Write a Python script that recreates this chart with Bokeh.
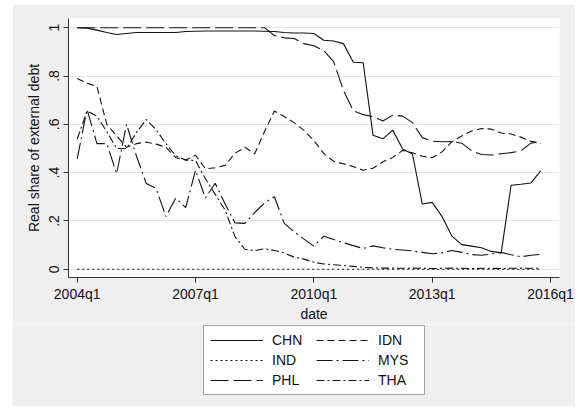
from bokeh.plotting import figure
from bokeh.layouts import column
from bokeh.models import Range1d, FixedTicker, Legend, LegendItem
from bokeh.embed import file_html
from bokeh.resources import INLINE

# Quarterly observations, 2004q1 .. 2015q4
quarters = [f"{y}q{q}" for y in range(2004, 2016) for q in range(1, 5)]
x = list(range(len(quarters)))

chn = [1.000, 0.998, 0.990, 0.980, 0.972, 0.976, 0.980, 0.980, 0.980, 0.980,
       0.980, 0.984, 0.985, 0.986, 0.986, 0.986, 0.986, 0.986, 0.986, 0.985,
       0.984, 0.980, 0.978, 0.978, 0.976, 0.948, 0.945, 0.934, 0.857, 0.855,
       0.555, 0.540, 0.576, 0.498, 0.477, 0.270, 0.277, 0.218, 0.137, 0.102,
       0.096, 0.089, 0.074, 0.068, 0.348, 0.352, 0.357, 0.407]
idn = [0.790, 0.770, 0.757, 0.600, 0.552, 0.505, 0.520, 0.527, 0.518, 0.505,
       0.462, 0.452, 0.472, 0.416, 0.420, 0.430, 0.480, 0.505, 0.478, 0.570,
       0.655, 0.632, 0.607, 0.575, 0.533, 0.480, 0.447, 0.437, 0.425, 0.410,
       0.418, 0.445, 0.463, 0.492, 0.482, 0.468, 0.462, 0.486, 0.528, 0.552,
       0.572, 0.583, 0.580, 0.564, 0.560, 0.547, 0.530, 0.522]
ind = [0.0, 0.0, 0.0, 0.0, 0.0, 0.0, 0.0, 0.0, 0.0, 0.0,
       0.0, 0.0, 0.0, 0.0, 0.0, 0.0, 0.0, 0.0, 0.0, 0.0,
       0.0, 0.0, 0.0, 0.0, 0.0, 0.0, 0.0, 0.0, 0.0, 0.0,
       0.0, 0.0, 0.0, 0.0, 0.0, 0.0, 0.0, 0.0, 0.0, 0.0,
       0.0, 0.0, 0.0, 0.0, 0.0, 0.0, 0.0, 0.0]
mys = [0.457, 0.662, 0.520, 0.520, 0.396, 0.600, 0.470, 0.355, 0.335, 0.218,
       0.295, 0.255, 0.410, 0.295, 0.356, 0.270, 0.192, 0.190, 0.235, 0.275,
       0.300, 0.190, 0.155, 0.125, 0.096, 0.137, 0.123, 0.110, 0.098, 0.086,
       0.097, 0.089, 0.083, 0.080, 0.076, 0.070, 0.064, 0.068, 0.078, 0.070,
       0.061, 0.058, 0.063, 0.070, 0.060, 0.052, 0.058, 0.062]
phl = [1.000, 1.000, 1.000, 1.000, 1.000, 1.000, 1.000, 1.000, 1.000, 1.000,
       1.000, 1.000, 1.000, 1.000, 1.000, 1.000, 1.000, 1.000, 1.000, 1.000,
       0.967, 0.958, 0.955, 0.934, 0.925, 0.905, 0.860, 0.740, 0.656, 0.640,
       0.632, 0.614, 0.638, 0.634, 0.607, 0.545, 0.530, 0.528, 0.529, 0.522,
       0.490, 0.475, 0.473, 0.478, 0.483, 0.490, 0.522, 0.528]
tha = [0.539, 0.655, 0.634, 0.570, 0.500, 0.500, 0.566, 0.620, 0.578, 0.520,
       0.470, 0.452, 0.450, 0.375, 0.310, 0.245, 0.135, 0.083, 0.077, 0.085,
       0.078, 0.068, 0.050, 0.042, 0.029, 0.022, 0.019, 0.016, 0.012, 0.008,
       0.006, 0.005, 0.005, 0.004, 0.005, 0.004, 0.003, 0.004, 0.005, 0.004,
       0.003, 0.004, 0.004, 0.003, 0.004, 0.005, 0.004, 0.004]

x_ticks = [0, 12, 24, 36, 48]
x_tick_labels = ["2004q1", "2007q1", "2010q1", "2013q1", "2016q1"]
y_ticks = [0, 0.2, 0.4, 0.6, 0.8, 1]
y_tick_labels = ["0", ".2", ".4", ".6", ".8", "1"]

FONT = "Liberation Sans"
INK = "#111111"
PANEL = "#efefef"

series = {
    "CHN": (chn, "solid"),
    "IDN": (idn, "7 4"),
    "IND": (ind, "2 3"),
    "MYS": (mys, "16 4 2 4"),
    "PHL": (phl, "18 5"),
    "THA": (tha, "8 3 2 3"),
}

# ---- main time-series panel -------------------------------------------
p = figure(width=563, height=320, output_backend="svg", toolbar_location=None,
           x_range=Range1d(-0.882, 48.91), y_range=Range1d(-0.034, 1.038),
           min_border_left=56, min_border_right=16, min_border_top=14,
           min_border_bottom=44)
p.frame_align = False
p.background_fill_color = "white"
p.border_fill_color = PANEL
p.outline_line_color = None

p.xgrid.grid_line_color = None
p.ygrid.grid_line_color = "#e4e4e4"
p.ygrid.grid_line_width = 1

for ax in (p.xaxis[0], p.yaxis[0]):
    ax.axis_line_color = "#333333"
    ax.major_tick_line_color = "#333333"
    ax.major_tick_out = 5
    ax.major_tick_in = 0
    ax.minor_tick_out = 0
    ax.minor_tick_in = 0
    ax.major_label_text_font = FONT
    ax.major_label_text_font_size = "14px"
    ax.major_label_text_color = INK
    ax.axis_label_text_font = FONT
    ax.axis_label_text_font_size = "14px"
    ax.axis_label_text_font_style = "normal"
    ax.axis_label_text_color = INK

p.xaxis.ticker = FixedTicker(ticks=x_ticks)
p.xaxis.major_label_overrides = dict(zip(x_ticks, x_tick_labels))
p.xaxis.axis_label = "date"
p.xaxis.major_label_standoff = 3
p.xaxis.axis_label_standoff = 1

p.yaxis.ticker = FixedTicker(ticks=y_ticks)
p.yaxis.major_label_overrides = dict(zip(y_ticks, y_tick_labels))
p.yaxis.major_label_orientation = "vertical"
p.yaxis.axis_label = "Real share of external debt"
p.yaxis.major_label_standoff = 4
p.yaxis.axis_label_standoff = 5

for name, (vals, dash) in series.items():
    p.line(x, vals, line_color=INK, line_width=1.1, line_dash=dash)

# ---- key panel underneath ---------------------------------------------
k = figure(width=563, height=82, output_backend="svg", toolbar_location=None,
           x_range=Range1d(-200, -199), y_range=Range1d(0, 1),
           x_axis_location=None, y_axis_location=None, min_border=0)
k.frame_align = False
k.grid.visible = False
k.background_fill_color = PANEL
k.border_fill_color = PANEL
k.outline_line_color = None

key_renderers = {}
for name, (vals, dash) in series.items():
    key_renderers[name] = k.line(x, vals, line_color=INK, line_width=1.1, line_dash=dash)

# two-column key, filled column by column
legend_order = ["CHN", "IND", "PHL", "IDN", "MYS", "THA"]
legend = Legend(items=[LegendItem(label=n, renderers=[key_renderers[n]]) for n in legend_order],
                ncols=2, location=(191, 11))
legend.label_text_font = FONT
legend.label_text_font_size = "14px"
legend.label_text_color = INK
legend.glyph_width = 53
legend.glyph_height = 16
legend.label_height = 16
legend.label_width = 40
legend.label_standoff = 9
legend.spacing = 4
legend.padding = 6
legend.margin = 0
legend.border_line_color = "#444444"
legend.border_line_width = 1
legend.background_fill_color = "white"
legend.background_fill_alpha = 1
k.add_layout(legend)

layout = column(p, k, spacing=0, margin=(4, 7, 4, 12))
open("out.html", "w").write(file_html(layout, INLINE))
